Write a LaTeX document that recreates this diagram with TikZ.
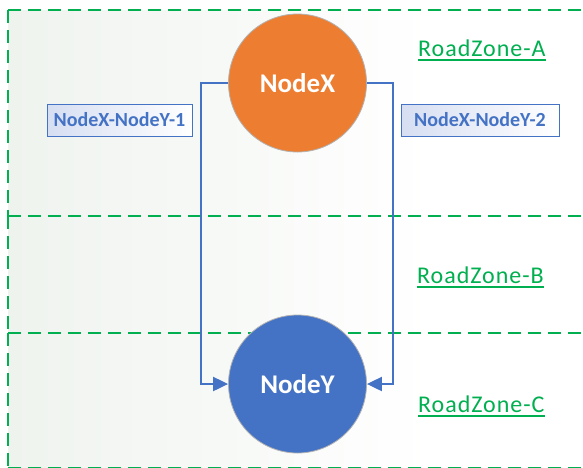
\documentclass[tikz,border=0pt]{standalone}
\usepackage{fontspec}
\setmainfont{Carlito}
\usetikzlibrary{arrows.meta}
\definecolor{zgreen}{HTML}{00B050}
\definecolor{xorange}{HTML}{ED7D31}
\definecolor{yblue}{HTML}{4472C4}
\definecolor{zshade}{HTML}{EFF3EE}
\definecolor{lav}{HTML}{D6DEF2}
\tikzset{
  zonefill/.style={left color=zshade, right color=white},
  zoneborder/.style={draw=zgreen, line width=1.6pt, dash pattern=on 13pt off 7pt},
  zonelabel/.style={text=zgreen, anchor=base west, inner sep=0pt, font=\fontsize{24}{28}\selectfont\addfontfeature{LetterSpace=4}},
  zoneline/.style={draw=zgreen, line width=1.5pt},
  bignode/.style={circle, minimum size=138pt, inner sep=0pt, draw=black!30, line width=0.8pt, text=white, font=\fontsize{27}{30}\selectfont\bfseries},
  linklabel/.style={draw=yblue, line width=0.9pt, left color=lav, right color=white, text=yblue, minimum height=32pt, inner sep=0pt, font=\fontsize{20}{24}\selectfont\bfseries},
  conn/.style={draw=yblue, line width=2pt, -{Triangle[length=15pt,width=14pt]}}
}
\begin{document}
\begin{tikzpicture}[x=1pt,y=-1pt]
\useasboundingbox (0,0) rectangle (583,467);
\fill[white] (0,0) rectangle (583,467);
\begin{scope}
\clip (0,0) rectangle (583,467);
% zones
\shade[zonefill] (8,10) rectangle (430,216);
\shade[zonefill] (8,216) rectangle (430,333);
\shade[zonefill] (8,333) rectangle (430,480);
\draw[zoneborder] (8,10) -- (640,10);
\draw[zoneborder] (8,216) -- (640,216);
\draw[zoneborder] (8,333) -- (640,333);
\draw[zoneborder] (8,467.5) -- (640,467.5);
\draw[zoneborder] (8,10) -- (8,216);
\draw[zoneborder] (8,216) -- (8,333);
\draw[zoneborder] (8,333) -- (8,467.5);
\end{scope}
% zone labels
\node[zonelabel] (zA) at (418,56) {RoadZone-A};
\node[zonelabel] (zB) at (417,283) {RoadZone-B};
\node[zonelabel] (zC) at (418,412) {RoadZone-C};
\foreach \z in {zA,zB,zC}
  \draw[zoneline] ([yshift=-4pt]\z.base west) -- ([yshift=-4pt]\z.base east);
% nodes
\node[bignode, fill=xorange] (NodeX) at (297.5,83) {NodeX};
\node[bignode, fill=yblue] (NodeY) at (297.5,384) {NodeY};
% connectors
\coordinate (B1) at (201,384);
\coordinate (B2) at (393,384);
\draw[conn] (NodeX.west) -| (B1) -- (NodeY.west);
\draw[conn] (NodeX.east) -| (B2) -- (NodeY.east);
% link labels
\node[linklabel, minimum width=145pt] (L1) at (119.5,120) {NodeX-NodeY-1};
\node[linklabel, minimum width=158pt] (L2) at (480,120) {NodeX-NodeY-2};
\end{tikzpicture}
\end{document}
